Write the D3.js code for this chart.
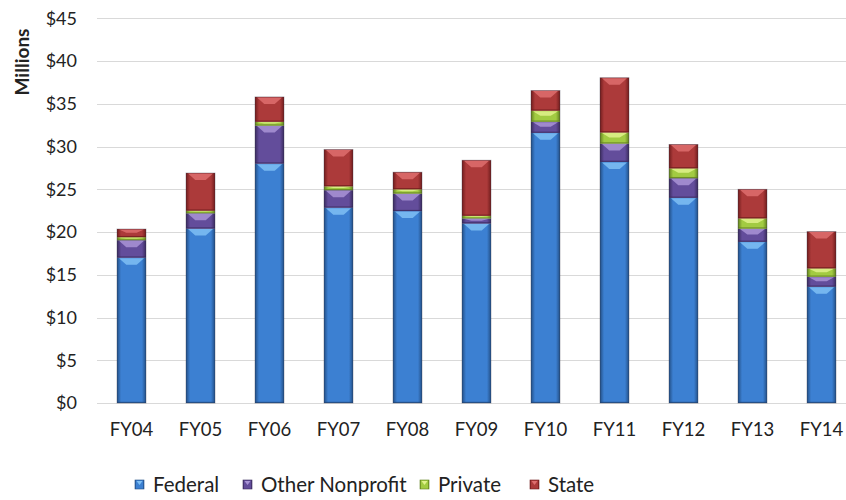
<!DOCTYPE html>
<html>
<head>
<meta charset="utf-8">
<script src="https://cdn.jsdelivr.net/npm/d3@7"></script>
<style>
  html, body { margin: 0; padding: 0; background: #fff; }
  svg { display: block; font-family: "Lato", "Open Sans", sans-serif; }
</style>
</head>
<body>
<svg id="chart" width="846" height="500"></svg>
<script>
const categories = ["FY04","FY05","FY06","FY07","FY08","FY09","FY10","FY11","FY12","FY13","FY14"];
const seriesNames = ["Federal","Other Nonprofit","Private","State"];
const federal        = [17.0, 20.4, 28.0, 22.85, 22.45, 21.0, 31.6, 28.2, 24.0, 18.85, 13.6];
const otherNonprofit = [2.05, 1.8, 4.45, 2.05, 2.05, 0.6, 1.3, 2.15, 2.3, 1.55, 1.17];
const privateFunds   = [0.35, 0.3, 0.45, 0.45, 0.5, 0.3, 1.3, 1.3, 1.15, 1.2, 0.98];
const state          = [0.95, 4.4, 2.9, 4.3, 2.0, 6.5, 2.35, 6.4, 2.8, 3.4, 4.3];
const yTicks = [0,5,10,15,20,25,30,35,40,45];
const yTickLabels = ["$0","$5","$10","$15","$20","$25","$30","$35","$40","$45"];

const seriesValues = [federal, otherNonprofit, privateFunds, state];
const palette = [
  {edge:"#234F86", mid:"#3C80D2", hi:"#7FC0F5"},
  {edge:"#3A2B5E", mid:"#634D9B", hi:"#A994D6"},
  {edge:"#62801F", mid:"#A2CB42", hi:"#E0F28C"},
  {edge:"#711D1D", mid:"#AC3A3A", hi:"#DE6E6E"}
];

const svg = d3.select("#chart");
const defs = svg.append("defs");
palette.forEach((c, i) => {
  const g = defs.append("linearGradient").attr("id", "grad" + i)
    .attr("x1", "0%").attr("x2", "100%").attr("y1", "0%").attr("y2", "0%");
  g.append("stop").attr("offset", "0%").attr("stop-color", c.edge);
  g.append("stop").attr("offset", "14%").attr("stop-color", c.mid);
  g.append("stop").attr("offset", "86%").attr("stop-color", c.mid);
  g.append("stop").attr("offset", "100%").attr("stop-color", c.edge);
});

const x = d3.scaleBand().domain(categories).range([97, 856]).paddingInner(0.58).paddingOuter(0.29);
const y = d3.scaleLinear().domain([0, 45]).range([403, 18.3]);

// gridlines
svg.append("g").selectAll("line").data(yTicks).join("line")
  .attr("x1", 97).attr("x2", 846)
  .attr("y1", d => Math.round(y(d)) + 0.5).attr("y2", d => Math.round(y(d)) + 0.5)
  .attr("stroke", "#D9D9D9").attr("stroke-width", 1.2);

// y axis labels
const yAxis = d3.axisLeft(y).tickValues(yTicks).tickSize(0).tickPadding(0)
  .tickFormat((d, i) => yTickLabels[i]);
const yg = svg.append("g").attr("transform", "translate(77,0)").call(yAxis);
yg.select(".domain").remove();
yg.selectAll("text").attr("font-size", 18).attr("fill", "#222").attr("font-family", "Lato, sans-serif");

// x axis labels
const xAxis = d3.axisBottom(x).tickSize(0).tickPadding(0);
const xg = svg.append("g").attr("transform", "translate(0,423)").call(xAxis);
xg.select(".domain").remove();
xg.selectAll("text").attr("font-size", 18.5).attr("fill", "#222").attr("font-family", "Lato, sans-serif");

// stacked data
const rows = categories.map((c, i) => {
  const r = {cat: c};
  seriesNames.forEach((s, k) => r[s] = seriesValues[k][i]);
  return r;
});
const stacked = d3.stack().keys(seriesNames)(rows);

const bw = x.bandwidth();
stacked.forEach((layer, k) => {
  const g = svg.append("g");
  layer.forEach(d => {
    const x0 = x(d.data.cat);
    const yt = y(d[1]), yb = y(d[0]);
    const h = yb - yt;
    g.append("rect").attr("x", x0).attr("y", yt).attr("width", bw).attr("height", h)
      .attr("fill", `url(#grad${k})`);
    // bevel highlight chevron on top
    const hh = Math.min(h * 0.45, 7);
    if (hh > 0.8) {
      const mid = x0 + bw / 2;
      g.append("polygon")
        .attr("points", [
          [x0 + 2, yt + 0.5], [x0 + bw - 2, yt + 0.5],
          [mid + bw * 0.18, yt + hh], [mid - bw * 0.18, yt + hh]
        ].map(p => p.join(",")).join(" "))
        .attr("fill", palette[k].hi).attr("opacity", 0.85);
    }
    // bottom dark edge
    g.append("rect").attr("x", x0).attr("y", yb - Math.min(1.2, h * 0.3)).attr("width", bw)
      .attr("height", Math.min(1.2, h * 0.3)).attr("fill", palette[k].edge).attr("opacity", 0.8);
  });
});

// bar outline subtle
svg.append("g").selectAll("rect").data(rows).join("rect")
  .attr("x", d => x(d.cat)).attr("width", bw)
  .attr("y", (d, i) => y(stacked[3][i][1]))
  .attr("height", (d, i) => y(0) - y(stacked[3][i][1]))
  .attr("fill", "none").attr("stroke", "rgba(40,40,60,0.4)").attr("stroke-width", 0.8);

// y title
svg.append("text").attr("transform", "translate(22,62) rotate(-90)")
  .attr("text-anchor", "middle").attr("dy", "0.36em").attr("font-size", 19).attr("font-weight", "bold")
  .attr("fill", "#222").text("Millions");

// legend
const legendX = [135, 243, 420, 530];
const lg = svg.append("g");
seriesNames.forEach((s, k) => {
  const item = lg.append("g").attr("transform", `translate(${legendX[k]},480)`);
  item.append("rect").attr("width", 9).attr("height", 9).attr("fill", `url(#grad${k})`)
    .attr("stroke", palette[k].edge).attr("stroke-width", 0.6);
  item.append("polygon").attr("points", "1.5,1 7.5,1 4.5,5").attr("fill", palette[k].hi);
  item.append("text").attr("x", 18).attr("y", 4.5).attr("dy", "0.36em")
    .attr("font-size", 20.5).attr("fill", "#222").text(s);
});
</script>
</body>
</html>
